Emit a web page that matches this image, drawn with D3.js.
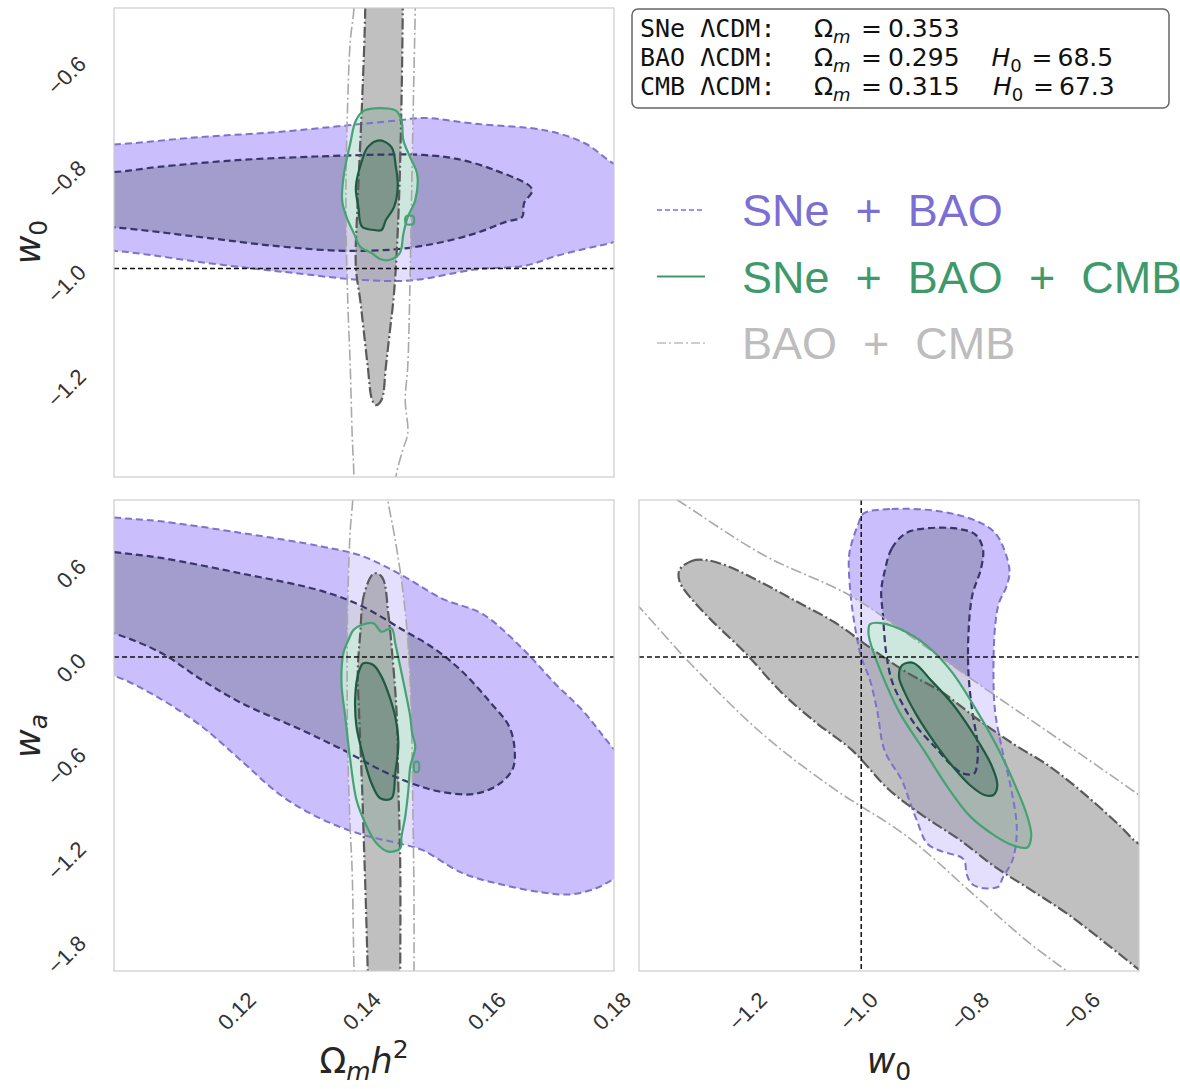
<!DOCTYPE html>
<html>
<head>
<meta charset="utf-8">
<script src="https://cdn.jsdelivr.net/npm/d3@7"></script>
<style>
  body { margin: 0; background: #fff; }
  svg { display: block; }
</style>
</head>
<body>
<svg id="chart" width="1180" height="1089"></svg>
<script>
// ---- contour vertices, in data units ----
// points placed beyond the axes close contours that leave the panel (they get clipped)

// panel: Omega_m h^2 (x) vs w0 (y)
const omW0_sneBaoOuter = [[0.090,-0.765],[0.1000,-0.762],[0.1134,-0.748],[0.1261,-0.738],[0.1375,-0.725],[0.1451,-0.716],[0.1495,-0.711],[0.1577,-0.722],[0.1691,-0.735],[0.1754,-0.760],[0.1800,-0.799],[0.186,-0.83],[0.186,-0.92],[0.1800,-0.949],[0.1754,-0.962],[0.1704,-0.977],[0.1660,-0.994],[0.1577,-1.002],[0.1489,-1.021],[0.1451,-1.024],[0.1375,-1.020],[0.1299,-1.010],[0.1223,-1.000],[0.1134,-0.987],[0.1058,-0.974],[0.1000,-0.966],[0.090,-0.962]];
const omW0_sneBaoInner = [[0.092,-0.818],[0.1000,-0.815],[0.1071,-0.805],[0.1197,-0.792],[0.1324,-0.785],[0.1451,-0.781],[0.1495,-0.782],[0.1546,-0.789],[0.1609,-0.811],[0.1669,-0.848],[0.1656,-0.875],[0.1653,-0.901],[0.1628,-0.910],[0.1577,-0.933],[0.1514,-0.952],[0.1451,-0.963],[0.1368,-0.966],[0.1261,-0.957],[0.1134,-0.939],[0.1000,-0.921],[0.092,-0.918]];
const omW0_baoCmbOuter = [[0.1386,-0.40],[0.1384,-0.50],[0.1378,-0.564],[0.1374,-0.678],[0.1371,-0.869],[0.1374,-1.061],[0.1378,-1.188],[0.1381,-1.316],[0.1384,-1.40],[0.1386,-1.50],[0.1446,-1.50],[0.1451,-1.40],[0.1462,-1.348],[0.1470,-1.316],[0.1466,-1.252],[0.1470,-1.188],[0.1473,-1.061],[0.1476,-0.869],[0.1479,-0.678],[0.1482,-0.50],[0.1483,-0.40]];
const omW0_baoCmbInner = [[0.1402,-0.40],[0.1402,-0.50],[0.1397,-0.678],[0.1390,-0.869],[0.1387,-0.997],[0.1394,-1.061],[0.1400,-1.124],[0.1406,-1.188],[0.1413,-1.252],[0.1419,-1.262],[0.1428,-1.252],[0.1435,-1.188],[0.1441,-1.124],[0.1447,-1.061],[0.1451,-0.997],[0.1456,-0.869],[0.1460,-0.678],[0.1462,-0.50],[0.1462,-0.40]];
const omW0_allOuter = [[0.1425,-0.692],[0.1451,-0.697],[0.1460,-0.716],[0.1463,-0.754],[0.1476,-0.792],[0.1485,-0.818],[0.1482,-0.869],[0.1470,-0.901],[0.1463,-0.933],[0.1457,-0.971],[0.1438,-0.984],[0.1425,-0.981],[0.1413,-0.971],[0.1394,-0.958],[0.1384,-0.933],[0.1372,-0.901],[0.1365,-0.869],[0.1368,-0.818],[0.1378,-0.760],[0.1387,-0.716],[0.1400,-0.697]];
const omW0_allInner = [[0.1425,-0.754],[0.1444,-0.767],[0.1451,-0.805],[0.1454,-0.843],[0.1448,-0.882],[0.1435,-0.907],[0.1428,-0.926],[0.1416,-0.926],[0.1397,-0.920],[0.1391,-0.882],[0.1387,-0.843],[0.1397,-0.792],[0.1406,-0.767]];
const omW0_allIsland = [[0.1467,-0.900],[0.1479,-0.900],[0.1479,-0.914],[0.1467,-0.914]];

// panel: Omega_m h^2 (x) vs wa (y)
const omWa_sneBaoOuter = [[0.092,0.93],[0.1000,0.889],[0.1075,0.864],[0.1204,0.790],[0.1332,0.704],[0.1397,0.643],[0.1461,0.520],[0.1525,0.372],[0.1590,0.273],[0.1654,0.052],[0.1706,-0.170],[0.1750,-0.342],[0.1800,-0.588],[0.186,-0.85],[0.186,-1.30],[0.1800,-1.414],[0.1770,-1.475],[0.1731,-1.512],[0.1686,-1.500],[0.1622,-1.451],[0.1558,-1.377],[0.1493,-1.229],[0.1461,-1.192],[0.1397,-1.131],[0.1332,-1.032],[0.1268,-0.884],[0.1204,-0.662],[0.1140,-0.441],[0.1075,-0.268],[0.1000,-0.120],[0.092,-0.06]];
const omWa_sneBaoInner = [[0.092,0.70],[0.1000,0.668],[0.1075,0.631],[0.1204,0.532],[0.1332,0.421],[0.1397,0.323],[0.1461,0.175],[0.1513,0.052],[0.1558,-0.096],[0.1603,-0.293],[0.1632,-0.441],[0.1641,-0.589],[0.1638,-0.712],[0.1616,-0.810],[0.1577,-0.872],[0.1525,-0.860],[0.1480,-0.810],[0.1429,-0.724],[0.1365,-0.589],[0.1300,-0.465],[0.1204,-0.293],[0.1140,-0.145],[0.1075,0.027],[0.1000,0.150],[0.092,0.22]];
const omWa_baoCmbOuter = [[0.1383,1.12],[0.1382,1.0],[0.1378,0.809],[0.1374,0.363],[0.1373,-0.096],[0.1374,-0.592],[0.1378,-1.102],[0.1381,-1.357],[0.1384,-2.0],[0.1385,-2.12],[0.1480,-2.12],[0.1480,-2.0],[0.1480,-1.548],[0.1478,-0.911],[0.1475,-0.274],[0.1470,0.108],[0.1462,0.427],[0.1450,0.745],[0.1438,1.0],[0.1434,1.12]];
const omWa_baoCmbInner = [[0.1416,0.532],[0.1400,0.397],[0.1394,0.150],[0.1390,-0.096],[0.1392,-0.342],[0.1397,-0.835],[0.1400,-1.204],[0.1403,-1.574],[0.1406,-2.0],[0.1407,-2.12],[0.1458,-2.12],[0.1458,-2.0],[0.1458,-1.327],[0.1455,-0.835],[0.1452,-0.342],[0.1445,0.027],[0.1439,0.273],[0.1429,0.508]];
const omWa_allOuter = [[0.1396,0.204],[0.1415,0.215],[0.1428,0.161],[0.1444,0.183],[0.1450,0.087],[0.1458,-0.062],[0.1469,-0.274],[0.1474,-0.380],[0.1477,-0.486],[0.1482,-0.571],[0.1474,-0.699],[0.1471,-0.847],[0.1466,-1.017],[0.1460,-1.145],[0.1458,-1.218],[0.1439,-1.240],[0.1420,-1.187],[0.1402,-1.059],[0.1388,-0.911],[0.1378,-0.656],[0.1370,-0.380],[0.1364,-0.168],[0.1367,0.024],[0.1375,0.108],[0.1383,0.172]];
const omWa_allInner = [[0.1399,-0.040],[0.1415,-0.051],[0.1428,-0.125],[0.1439,-0.231],[0.1450,-0.380],[0.1455,-0.550],[0.1450,-0.741],[0.1444,-0.900],[0.1426,-0.900],[0.1412,-0.804],[0.1399,-0.635],[0.1388,-0.444],[0.1386,-0.253],[0.1391,-0.104]];
const omWa_allIsland = [[0.1481,-0.67],[0.1487,-0.67],[0.1487,-0.73],[0.1481,-0.73]];

// panel: w0 (x) vs wa (y)
const w0Wa_sneBaoOuter = [[-0.996,0.913],[-0.945,0.943],[-0.855,0.926],[-0.791,0.864],[-0.759,0.790],[-0.742,0.678],[-0.733,0.543],[-0.739,0.444],[-0.752,0.345],[-0.759,0.196],[-0.762,-0.100],[-0.759,-0.348],[-0.746,-0.595],[-0.730,-0.842],[-0.720,-1.089],[-0.727,-1.287],[-0.746,-1.411],[-0.752,-1.461],[-0.778,-1.473],[-0.800,-1.448],[-0.810,-1.386],[-0.816,-1.287],[-0.855,-1.238],[-0.881,-1.189],[-0.900,-1.040],[-0.913,-0.917],[-0.926,-0.792],[-0.958,-0.595],[-0.971,-0.348],[-0.984,-0.150],[-1.000,-0.001],[-1.009,0.147],[-1.019,0.394],[-1.022,0.641],[-1.016,0.740],[-1.006,0.839]];
const w0Wa_sneBaoInner = [[-0.958,0.543],[-0.945,0.691],[-0.919,0.790],[-0.881,0.820],[-0.823,0.815],[-0.794,0.778],[-0.781,0.691],[-0.784,0.568],[-0.800,0.394],[-0.807,0.147],[-0.807,-0.100],[-0.800,-0.348],[-0.791,-0.545],[-0.791,-0.669],[-0.797,-0.743],[-0.816,-0.743],[-0.836,-0.694],[-0.868,-0.570],[-0.900,-0.446],[-0.926,-0.298],[-0.945,-0.150],[-0.955,0.024],[-0.961,0.271],[-0.964,0.419]];
const w0Wa_baoCmbOuter = [[-1.42,1.20],[-1.331,1.0],[-1.176,0.650],[-1.022,0.395],[-0.894,0.089],[-0.756,-0.253],[-0.642,-0.529],[-0.500,-0.879],[-0.42,-1.08],[-0.42,-2.25],[-0.55,-2.22],[-0.630,-2.0],[-0.694,-1.831],[-0.791,-1.534],[-0.919,-1.139],[-1.048,-0.842],[-1.176,-0.496],[-1.305,-0.051],[-1.400,0.320],[-1.48,0.62],[-1.48,1.20]];
const w0Wa_baoCmbInner = [[-1.327,0.555],[-1.305,0.612],[-1.279,0.617],[-1.241,0.580],[-1.176,0.468],[-1.112,0.345],[-1.048,0.221],[-0.983,0.057],[-0.919,-0.096],[-0.855,-0.223],[-0.791,-0.395],[-0.726,-0.554],[-0.662,-0.694],[-0.598,-0.873],[-0.534,-1.076],[-0.500,-1.189],[-0.45,-1.23],[-0.45,-2.13],[-0.500,-1.992],[-0.566,-1.806],[-0.630,-1.633],[-0.694,-1.485],[-0.759,-1.337],[-0.823,-1.164],[-0.887,-1.015],[-0.951,-0.842],[-1.016,-0.595],[-1.080,-0.422],[-1.144,-0.224],[-1.208,0.024],[-1.273,0.246],[-1.311,0.394],[-1.327,0.481]];
const w0Wa_allOuter = [[-0.984,0.209],[-0.964,0.216],[-0.919,0.159],[-0.874,0.048],[-0.836,-0.100],[-0.791,-0.348],[-0.752,-0.595],[-0.726,-0.792],[-0.701,-1.015],[-0.694,-1.139],[-0.701,-1.213],[-0.726,-1.201],[-0.759,-1.139],[-0.804,-1.015],[-0.842,-0.842],[-0.887,-0.595],[-0.932,-0.348],[-0.964,-0.100],[-0.984,0.097],[-0.987,0.159]];
const w0Wa_allInner = [[-0.926,-0.051],[-0.906,-0.038],[-0.874,-0.150],[-0.836,-0.298],[-0.797,-0.496],[-0.765,-0.694],[-0.755,-0.817],[-0.762,-0.879],[-0.778,-0.879],[-0.804,-0.817],[-0.836,-0.694],[-0.868,-0.545],[-0.900,-0.372],[-0.922,-0.224],[-0.932,-0.125]];

// ticks
const omegaTicks = [0.12, 0.14, 0.16, 0.18];
const w0TicksLeft = [-1.2, -1.0, -0.8, -0.6];
const w0TicksBottom = [-1.2, -1.0, -0.8, -0.6];
const waTicks = [-1.8, -1.2, -0.6, 0.0, 0.6];

// text box
const boxNames = ["SNe ΛCDM:", "BAO ΛCDM:", "CMB ΛCDM:"];
const boxOmegaM = [0.353, 0.295, 0.315];
const boxH0 = [null, 68.5, 67.3];

// legend
const legendLabels = ["SNe + BAO", "SNe + BAO + CMB", "BAO + CMB"];
const legendKeys = ["sneBao", "all", "baoCmb"];

// ---- styles ----
const fillStyle = {
  sneBaoOuter: {fill: "#cbbefc", op: 1},
  sneBaoInner: {fill: "#a29dcc", op: 1},
  baoCmbOuter: {fill: "#ffffff", op: 0.5},
  allOuter:    {fill: "#cdeadd", op: 0.88},
  allInner:    {fill: "#5f9680", op: 0.7},
  baoCmbInner: {fill: "#7c7c7c", op: 0.48}
};
const lineStyle = {
  sneBaoOuter: {stroke: "#7d72cc", dash: "7,4", w: 2},
  sneBaoInner: {stroke: "#38356a", dash: "7,4", w: 2.2},
  baoCmbOuter: {stroke: "#a9a9a9", dash: "11,3,2,3", w: 1.6},
  baoCmbInner: {stroke: "#5a5a5a", dash: "11,3,2,3", w: 2.2},
  allOuter:    {stroke: "#45a273", dash: null, w: 2.2},
  allInner:    {stroke: "#1e5a40", dash: null, w: 2.2}
};
const fillOrder = ["sneBaoOuter", "sneBaoInner", "baoCmbOuter", "allOuter", "allInner", "baoCmbInner"];
const lineOrder = ["sneBaoOuter", "sneBaoInner", "baoCmbOuter", "baoCmbInner", "allOuter", "allInner"];

const legendColor = {sneBao: "#7b6fd4", all: "#3f9a6b", baoCmb: "#bdbdbd"};
const legendDash = {sneBao: "5,3", all: null, baoCmb: "9,3,2,3"};

const svg = d3.select("#chart");
const defs = svg.append("defs");

const fmt1 = d3.format(".1f");
const fmt2 = d3.format(".2f");

const panels = [
  {id: "tl", x0: 114, y0: 8, w: 500, h: 469, xd: [0.10, 0.18], yd: [-1.4, -0.5],
   c: {sneBaoOuter: omW0_sneBaoOuter, sneBaoInner: omW0_sneBaoInner, baoCmbOuter: omW0_baoCmbOuter,
       baoCmbInner: omW0_baoCmbInner, allOuter: omW0_allOuter, allInner: omW0_allInner},
   island: omW0_allIsland, hRef: -1.0, vRef: null,
   xTicks: [], yTicks: w0TicksLeft, xf: fmt2, yf: fmt1},
  {id: "bl", x0: 114, y0: 500, w: 500, h: 471, xd: [0.10, 0.18], yd: [-2.0, 1.0],
   c: {sneBaoOuter: omWa_sneBaoOuter, sneBaoInner: omWa_sneBaoInner, baoCmbOuter: omWa_baoCmbOuter,
       baoCmbInner: omWa_baoCmbInner, allOuter: omWa_allOuter, allInner: omWa_allInner},
   island: omWa_allIsland, hRef: 0.0, vRef: null,
   xTicks: omegaTicks, yTicks: waTicks, xf: fmt2, yf: fmt1},
  {id: "br", x0: 639, y0: 500, w: 500, h: 471, xd: [-1.4, -0.5], yd: [-2.0, 1.0],
   c: {sneBaoOuter: w0Wa_sneBaoOuter, sneBaoInner: w0Wa_sneBaoInner, baoCmbOuter: w0Wa_baoCmbOuter,
       baoCmbInner: w0Wa_baoCmbInner, allOuter: w0Wa_allOuter, allInner: w0Wa_allInner},
   island: null, hRef: 0.0, vRef: -1.0,
   xTicks: w0TicksBottom, yTicks: [], xf: fmt1, yf: fmt1}
];

panels.forEach(p => {
  let x = d3.scaleLinear().domain(p.xd).range([p.x0, p.x0 + p.w]);
  let y = d3.scaleLinear().domain(p.yd).range([p.y0 + p.h, p.y0]);
  let line = d3.line().x(d => x(d[0])).y(d => y(d[1])).curve(d3.curveCatmullRomClosed.alpha(0.5));

  defs.append("clipPath").attr("id", "clip-" + p.id)
    .append("rect").attr("x", p.x0).attr("y", p.y0).attr("width", p.w).attr("height", p.h);

  let g = svg.append("g").attr("clip-path", "url(#clip-" + p.id + ")");

  // filled regions
  fillOrder.forEach(k => {
    g.append("path").attr("d", line(p.c[k]))
      .attr("fill", fillStyle[k].fill).attr("fill-opacity", fillStyle[k].op).attr("stroke", "none");
  });
  // contour lines on top
  lineOrder.forEach(k => {
    g.append("path").attr("d", line(p.c[k]))
      .attr("fill", "none").attr("stroke", lineStyle[k].stroke)
      .attr("stroke-width", lineStyle[k].w)
      .attr("stroke-dasharray", lineStyle[k].dash);
  });
  if (p.island) {
    g.append("path").attr("d", line(p.island)).attr("fill", "none")
      .attr("stroke", lineStyle.allOuter.stroke).attr("stroke-width", 2);
  }

  // reference lines
  if (p.hRef !== null) {
    g.append("line").attr("x1", p.x0).attr("x2", p.x0 + p.w)
      .attr("y1", y(p.hRef)).attr("y2", y(p.hRef))
      .attr("stroke", "#111").attr("stroke-width", 1.5).attr("stroke-dasharray", "5,3");
  }
  if (p.vRef !== null) {
    g.append("line").attr("y1", p.y0).attr("y2", p.y0 + p.h)
      .attr("x1", x(p.vRef)).attr("x2", x(p.vRef))
      .attr("stroke", "#111").attr("stroke-width", 1.5).attr("stroke-dasharray", "5,3");
  }

  // frame
  svg.append("rect").attr("x", p.x0).attr("y", p.y0).attr("width", p.w).attr("height", p.h)
    .attr("fill", "none").attr("stroke", "#cccccc").attr("stroke-width", 1.2);

  // rotated tick labels
  svg.append("g").selectAll("text").data(p.xTicks).join("text")
    .attr("transform", d => `translate(${x(d) + 13},${p.y0 + p.h + 25}) rotate(-45)`)
    .attr("text-anchor", "end").attr("dominant-baseline", "central")
    .style("font-family", "'Liberation Sans', Arial, sans-serif").style("font-size", "22px")
    .attr("fill", "#333").text(d => p.xf(d));
  svg.append("g").selectAll("text").data(p.yTicks).join("text")
    .attr("transform", d => `translate(${p.x0 - 32},${y(d)}) rotate(-45)`)
    .attr("text-anchor", "end").attr("dominant-baseline", "central")
    .style("font-family", "'Liberation Sans', Arial, sans-serif").style("font-size", "22px")
    .attr("fill", "#333").text(d => p.yf(d));
});

// axis labels with sub/superscripts
function mathLabel(parts, tx, ty, rot) {
  let t = svg.append("text")
    .attr("transform", `translate(${tx},${ty}) rotate(${rot})`)
    .attr("text-anchor", "middle")
    .style("font-family", "'DejaVu Sans', sans-serif").style("font-size", "35px")
    .attr("fill", "#262626");
  let shift = 0;
  parts.forEach(q => {
    let target = q.sub ? 7 : q.sup ? -15 : 0;
    t.append("tspan").attr("dy", target - shift)
      .style("font-size", (q.sub || q.sup) ? "25px" : "35px")
      .style("font-style", q.it ? "italic" : "normal")
      .text(q.t);
    shift = target;
  });
}
mathLabel([{t: "w", it: true}, {t: "0", sub: true}], 40, 242, -90);
mathLabel([{t: "w", it: true}, {t: "a", sub: true, it: true}], 40, 736, -90);
mathLabel([{t: "Ω"}, {t: "m", sub: true, it: true}, {t: "h", it: true}, {t: "2", sup: true}], 364, 1073, 0);
mathLabel([{t: "w", it: true}, {t: "0", sub: true}], 889, 1073, 0);

// ---- info box ----
svg.append("rect").attr("x", 632).attr("y", 9).attr("width", 537).attr("height", 99)
  .attr("rx", 6).attr("fill", "#fff").attr("stroke", "#666").attr("stroke-width", 1.5);

boxNames.forEach((name, i) => {
  let by = 37 + i * 28.8;
  svg.append("text").attr("x", 640).attr("y", by)
    .style("font-family", "'DejaVu Sans Mono', monospace").style("font-size", "25px")
    .attr("fill", "#111").text(name);
  let t = svg.append("text").attr("x", 814).attr("y", by)
    .style("font-family", "'DejaVu Sans', sans-serif").style("font-size", "25px").attr("fill", "#111");
  t.append("tspan").text("Ω");
  t.append("tspan").attr("dy", 6).style("font-size", "18px").style("font-style", "italic").text("m");
  t.append("tspan").attr("dy", -6).attr("x", 861).text("=");
  t.append("tspan").attr("x", 888).text(d3.format(".3f")(boxOmegaM[i]));
  if (boxH0[i] !== null) {
    let hx = 990 + i * 1.5;
    t.append("tspan").attr("x", hx).style("font-style", "italic").text("H");
    t.append("tspan").attr("dy", 6).style("font-size", "18px").text("0");
    t.append("tspan").attr("dy", -6).attr("x", hx + 40).text("=");
    t.append("tspan").attr("x", hx + 66).text(fmt1(boxH0[i]));
  }
});

// ---- legend ----
legendLabels.forEach((lab, i) => {
  let key = legendKeys[i];
  let ly = 210 + i * 66.5;
  svg.append("line").attr("x1", 657).attr("x2", 705).attr("y1", ly).attr("y2", ly)
    .attr("stroke", legendColor[key]).attr("stroke-width", key === "all" ? 2.2 : 1.6)
    .attr("stroke-dasharray", legendDash[key]);
  let t = svg.append("text").attr("x", 742).attr("y", ly + 16)
    .style("font-family", "'Liberation Sans', Arial, sans-serif").style("font-size", "45px")
    .attr("fill", legendColor[key]);
  lab.split(" ").forEach((wd, j) => {
    t.append("tspan").attr("dx", j === 0 ? 0 : 26).text(wd);
  });
});
</script>
</body>
</html>
